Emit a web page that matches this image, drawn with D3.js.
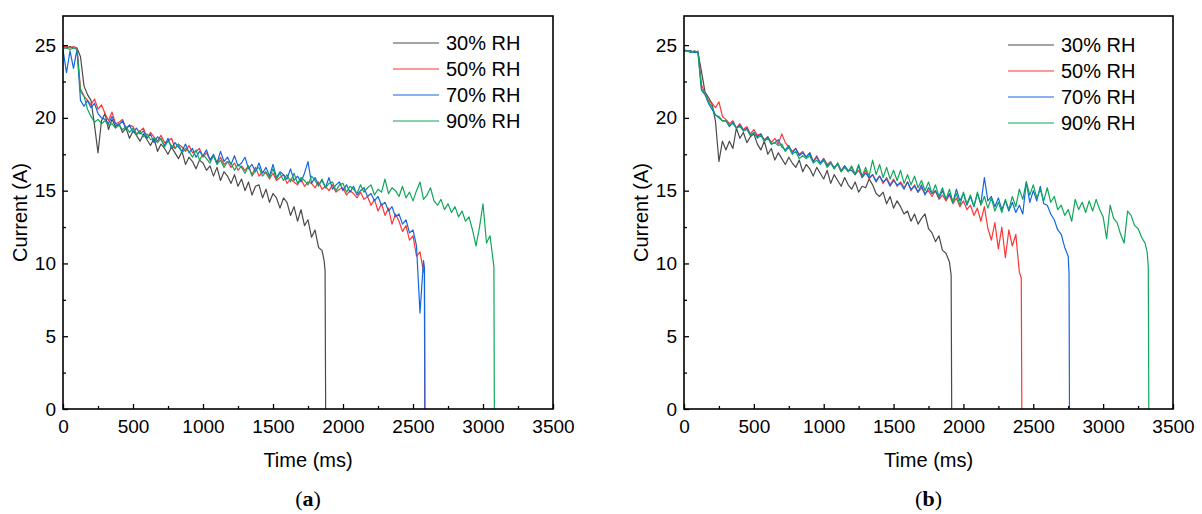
<!DOCTYPE html>
<html><head><meta charset="utf-8">
<script src="https://cdn.jsdelivr.net/npm/d3@7"></script>
<style>body{margin:0;background:#fff}svg{display:block}</style>
</head><body>
<svg id="c" width="1202" height="514"></svg>
<script>
// ---------- DATA ----------
const seriesNames = ["30% RH", "50% RH", "70% RH", "90% RH"];
const seriesColors = ["#4a4a4a", "#ff3535", "#1466e0", "#0fa65a"];
const xTickValues = [0, 500, 1000, 1500, 2000, 2500, 3000, 3500];
const xMinorValues = [250, 750, 1250, 1750, 2250, 2750, 3250];
const yTickValues = [0, 5, 10, 15, 20, 25];
const yMinorValues = [2.5, 7.5, 12.5, 17.5, 22.5];

// sample times (ms), shared sampling grid of the recordings
const sampleTimes = [0,25,50,75,100,125,150,175,200,225,250,275,300,325,350,375,400,425,450,475,500,525,550,575,600,625,650,675,700,725,750,775,800,825,850,875,900,925,950,975,1000,1025,1050,1075,1100,1125,1150,1175,1200,1225,1250,1275,1300,1325,1350,1375,1400,1425,1450,1475,1500,1525,1550,1575,1600,1625,1650,1675,1700,1725,1750,1775,1800,1825,1850,1875,1900,1925,1950,1975,2000,2025,2050,2075,2100,2125,2150,2175,2200,2225,2250,2275,2300,2325,2350,2375,2400,2425,2450,2475,2500,2525,2550,2575,2600,2625,2650,2675,2700,2725,2750,2775,2800,2825,2850,2875,2900,2925,2950,2975,3000,3025,3050,3075,3100,3125,3150,3175,3200,3225,3250,3275,3300];

// Panel (a) currents (A)
const a30 = [24.8,24.8,24.9,24.8,24.8,24.2,22.2,21.6,
21.2,19.5,17.6,19.8,20.3,19.2,19.9,19.4,
19.6,19.0,19.3,18.6,19.1,18.8,18.4,18.9,
18.5,18.1,18.6,17.7,18.2,17.9,17.5,18.0,
17.6,17.2,17.7,16.8,17.3,17.0,16.5,17.1,
16.9,16.4,16.7,16.0,16.6,15.7,16.3,16.0,
15.5,16.1,15.3,15.8,15.0,15.6,14.7,15.3,
15.4,14.5,15.1,14.2,14.8,14.5,13.8,14.5,
14.2,13.3,13.9,12.9,13.7,12.6,13.0,11.8,
12.3,11.1,10.9];
const a30End = [[1865,10.2],[1872,9.5],[1876,0]];

const a50 = [24.9,24.9,24.8,24.9,24.8,22.0,21.5,21.2,
20.9,21.3,20.6,20.9,20.3,19.8,20.4,19.6,
19.7,19.9,19.3,19.5,19.4,18.9,19.1,19.3,
18.6,19.0,18.7,18.4,18.8,18.3,18.4,18.6,
17.9,18.2,18.0,17.7,18.1,17.6,17.7,17.9,
17.3,17.6,17.1,17.4,16.9,17.3,16.8,17.0,
16.6,16.9,16.4,16.7,16.4,16.7,16.1,16.6,
16.0,16.3,16.2,15.8,16.2,15.7,15.9,16.1,
15.5,15.8,15.6,15.4,15.8,15.3,15.6,15.5,
15.2,15.6,15.1,15.3,15.0,15.4,14.9,15.1,
15.2,14.7,15.0,14.8,14.5,14.9,14.4,14.6,
14.0,14.4,13.6,14.1,13.3,13.8,12.7,13.4,
12.9,12.2,12.6,11.6,11.9,10.5,10.8,9.4];
const a50End = [[2581,9.6],[2584,0]];

const a70 = [24.7,23.1,24.6,23.4,24.7,21.2,20.8,21.2,
20.7,21.0,20.3,20.0,19.9,19.6,20.1,19.6,
19.5,19.8,19.2,19.5,19.0,19.3,18.9,19.1,
18.6,18.9,18.3,18.7,18.5,18.1,18.6,17.9,
18.3,18.0,17.7,18.2,17.6,17.9,17.3,17.7,
17.4,17.8,17.1,17.5,16.9,17.7,17.0,17.3,
16.8,17.4,16.7,16.9,17.3,16.5,16.8,16.3,
16.9,16.2,16.6,16.0,16.8,15.9,16.3,16.1,
15.8,16.5,15.7,16.0,15.6,16.2,17.0,15.5,
15.9,15.4,15.7,15.2,15.9,15.1,15.4,15.6,
15.0,15.4,14.9,15.3,14.7,15.0,15.2,14.6,
14.8,14.3,14.6,14.0,14.2,13.6,13.9,13.2,
13.4,12.7,13.0,12.1,12.3,11.2,6.6,10.2];
const a70End = [[2582,9.7],[2585,0]];

const a90 = [24.8,24.8,24.7,24.8,24.7,21.8,21.5,20.6,
20.1,19.7,19.9,19.6,19.8,19.5,19.6,19.3,
19.5,19.2,19.4,19.0,19.3,18.8,19.1,18.7,
18.9,18.5,18.6,18.3,18.6,18.0,18.4,18.1,
17.9,18.2,17.6,17.9,17.7,17.3,17.8,17.1,
17.5,17.2,16.9,17.4,16.8,17.1,16.6,17.0,
16.9,16.4,16.8,16.6,16.2,16.7,16.0,16.4,
16.6,16.0,16.3,15.9,16.5,15.8,16.2,15.7,
16.1,15.6,16.2,15.5,15.9,15.7,15.4,16.0,
15.7,15.3,15.8,15.2,15.5,15.6,15.0,15.4,
15.5,14.9,15.3,15.1,14.8,15.4,14.9,15.2,
15.4,14.7,15.1,14.9,15.8,14.8,15.2,15.0,
14.6,15.3,14.5,14.9,14.3,15.0,15.6,14.4,
14.7,15.2,14.3,14.0,14.4,13.7,14.1,13.5,
13.9,13.2,13.6,12.9,13.2,12.3,11.2,12.5,
14.1,11.4,11.9,10.0];
const a90End = [[3078,9.7],[3081,0]];

// Panel (b) currents (A)
const b30 = [24.6,24.6,24.5,24.6,24.5,23.2,21.8,21.4,
21.0,19.8,17.0,18.4,17.8,18.4,17.9,19.3,
18.6,19.0,18.3,18.7,18.9,18.2,17.8,18.4,
17.5,17.9,17.1,17.6,17.2,16.8,17.3,16.9,
16.6,17.1,16.3,16.8,16.5,16.0,16.6,16.2,
15.8,16.4,15.5,16.1,15.7,15.3,15.9,15.4,
15.1,15.6,14.9,15.3,15.2,15.8,15.4,14.8,
14.6,14.9,14.1,14.6,13.8,14.3,13.9,13.4,
13.6,12.9,13.4,12.7,13.1,13.4,12.4,12.1,
11.5,11.9,10.9,10.7,10.1];
const b30End = [[1912,9.2],[1916,0]];

const b50 = [24.6,24.6,24.6,24.5,24.6,22.3,21.7,21.2,
21.0,20.7,21.1,20.1,19.9,19.6,19.8,19.3,
19.6,19.2,19.4,18.9,19.2,18.8,18.9,18.5,
18.7,18.3,18.6,18.2,18.9,18.3,18.0,17.7,
17.9,17.5,17.7,17.3,17.6,17.0,17.4,16.9,
17.2,16.8,17.0,16.5,16.9,16.4,16.7,16.3,
16.6,16.1,16.4,15.9,16.4,15.8,16.1,15.7,
16.0,15.5,15.9,15.4,15.8,15.3,15.6,15.2,
15.6,15.0,15.4,14.9,15.2,14.8,15.0,14.6,
15.0,14.4,14.7,14.3,14.7,14.1,14.5,13.9,
14.3,13.7,14.0,13.3,13.8,12.9,13.9,12.4,
11.6,12.8,11.0,12.5,10.4,12.3,11.2,12.0,
9.4];
const b50End = [[2414,9.0],[2418,0]];

const b70 = [24.7,24.6,24.6,24.5,24.5,21.9,21.6,21.0,
20.6,20.2,20.0,19.8,19.8,19.4,19.7,19.3,
19.5,19.1,19.3,18.8,19.0,18.7,18.9,18.4,
18.7,18.2,18.3,18.5,18.0,17.8,18.1,17.6,
17.9,17.4,17.6,17.3,17.6,17.0,17.3,16.9,
17.2,16.7,16.9,16.6,16.8,16.3,16.7,16.4,
16.4,16.1,16.7,15.9,16.2,15.9,16.1,15.6,
16.0,15.6,15.8,15.3,15.7,15.4,15.5,15.1,
15.6,15.1,15.3,14.9,15.4,14.7,15.2,14.8,
15.0,14.5,15.0,14.4,14.8,14.2,15.1,14.3,
14.8,14.0,14.6,13.9,14.8,14.1,15.9,14.3,
14.6,13.9,14.5,13.7,14.3,13.6,14.2,13.5,
14.0,13.4,15.6,14.2,15.0,14.3,15.3,14.1,
14.0,13.4,13.0,12.3,12.0,11.1,10.5];
const b70End = [[2756,9.3],[2759,0]];

const b90 = [24.6,24.6,24.5,24.6,24.5,22.0,21.7,21.1,
20.8,20.2,20.1,19.8,19.8,19.5,19.6,19.3,
19.4,19.1,19.2,18.8,19.0,18.6,18.8,18.4,
18.6,18.2,18.3,18.1,18.2,17.7,18.0,17.5,
17.7,17.2,17.4,17.2,17.4,16.9,17.1,16.8,
17.1,16.6,16.9,16.5,16.9,16.3,16.6,16.3,
16.7,16.1,16.8,16.0,16.6,16.0,17.1,16.1,
16.8,15.9,16.6,15.8,16.4,15.7,16.4,15.5,
16.1,15.4,16.0,15.2,15.7,15.0,15.6,14.8,
15.4,14.6,15.2,14.4,15.1,14.2,14.8,14.0,
14.9,14.1,14.7,13.9,14.9,14.0,14.6,13.8,
14.5,13.6,14.2,13.5,14.4,13.7,14.6,13.9,
15.1,14.4,15.6,14.7,15.4,14.5,15.1,14.3,
15.2,14.2,14.6,13.7,14.0,13.3,13.7,12.9,
14.4,13.7,14.2,13.5,14.3,13.6,14.4,13.7,
13.2,11.7,14.0,13.1,12.8,12.0,11.4,13.6,
13.3,12.6,12.4,11.8,11.4];
const b90End = [[3315,10.8],[3323,9.8],[3327,0]];

// ---------- BUILD ----------
function toPoints(vals, end) {
  return vals.map((v, i) => [sampleTimes[i], v]).concat(end);
}

const panels = [
  { left: 63, right: 553, legendX: 393, legendY: 43, caption: "a",
    series: [toPoints(a30, a30End), toPoints(a50, a50End), toPoints(a70, a70End), toPoints(a90, a90End)] },
  { left: 684, right: 1173, legendX: 1008, legendY: 45, caption: "b",
    series: [toPoints(b30, b30End), toPoints(b50, b50End), toPoints(b70, b70End), toPoints(b90, b90End)] }
];

const plotTop = 16, plotBottom = 409;
const svg = d3.select("#c");
const sansFont = "'Liberation Sans', Arial, sans-serif";
const fmt = d3.format("d");

panels.forEach((p, pi) => {
  const x = d3.scaleLinear().domain([0, 3500]).range([p.left, p.right]);
  const y = d3.scaleLinear().domain([0, 27]).range([plotBottom, plotTop]);
  const g = svg.append("g");

  const clipId = "clip" + pi;
  svg.append("clipPath").attr("id", clipId).append("rect")
    .attr("x", p.left).attr("y", plotTop).attr("width", p.right - p.left).attr("height", plotBottom - plotTop);

  const line = d3.line().x(d => x(d[0])).y(d => y(d[1]));
  const lg = g.append("g").attr("clip-path", `url(#${clipId})`);
  p.series.forEach((s, i) => {
    lg.append("path").datum(s).attr("d", line)
      .attr("fill", "none").attr("stroke", seriesColors[i])
      .attr("stroke-width", 1.2).attr("stroke-linejoin", "round");
  });

  // axes
  const xa = g.append("g").attr("transform", `translate(0,${plotBottom})`)
    .call(d3.axisBottom(x).tickValues(xTickValues).tickFormat(fmt).tickSizeInner(-5).tickSizeOuter(0).tickPadding(11));
  const xm = g.append("g").attr("transform", `translate(0,${plotBottom})`)
    .call(d3.axisBottom(x).tickValues(xMinorValues).tickSizeInner(-3).tickSizeOuter(0).tickFormat(""));
  const ya = g.append("g").attr("transform", `translate(${p.left},0)`)
    .call(d3.axisLeft(y).tickValues(yTickValues).tickFormat(fmt).tickSizeInner(-5).tickSizeOuter(0).tickPadding(7));
  const ym = g.append("g").attr("transform", `translate(${p.left},0)`)
    .call(d3.axisLeft(y).tickValues(yMinorValues).tickSizeInner(-3).tickSizeOuter(0).tickFormat(""));
  [xa, xm, ya, ym].forEach(a => {
    a.select(".domain").remove();
    a.selectAll(".tick line").attr("stroke", "#000").attr("stroke-width", 1.3);
    a.selectAll(".tick text").attr("font-family", sansFont).attr("font-size", 19).attr("fill", "#000");
  });

  g.append("rect").attr("x", p.left).attr("y", plotTop)
    .attr("width", p.right - p.left).attr("height", plotBottom - plotTop)
    .attr("fill", "none").attr("stroke", "#000").attr("stroke-width", 1.6);

  // titles
  const cx = (p.left + p.right) / 2;
  g.append("text").attr("x", cx).attr("y", 467).attr("text-anchor", "middle")
    .attr("font-family", sansFont).attr("font-size", 20).text("Time (ms)");
  g.append("text").attr("transform", `translate(${p.left - 36},${(plotTop + plotBottom) / 2}) rotate(-90)`)
    .attr("text-anchor", "middle").attr("font-family", sansFont).attr("font-size", 20).text("Current (A)");

  // caption
  const cap = g.append("text").attr("x", cx).attr("y", 506).attr("text-anchor", "middle")
    .attr("font-family", "'Liberation Serif', 'DejaVu Serif', serif").attr("font-size", 22);
  cap.append("tspan").text("(");
  cap.append("tspan").attr("font-weight", "bold").text(p.caption);
  cap.append("tspan").text(")");

  // legend
  seriesNames.forEach((n, i) => {
    const ly = p.legendY + i * 26;
    g.append("line").attr("x1", p.legendX).attr("x2", p.legendX + 46)
      .attr("y1", ly).attr("y2", ly).attr("stroke", seriesColors[i]).attr("stroke-width", 1.2);
    g.append("text").attr("x", p.legendX + 53).attr("y", ly + 7)
      .attr("font-family", sansFont).attr("font-size", 20).text(n);
  });
});
</script>
</body></html>
